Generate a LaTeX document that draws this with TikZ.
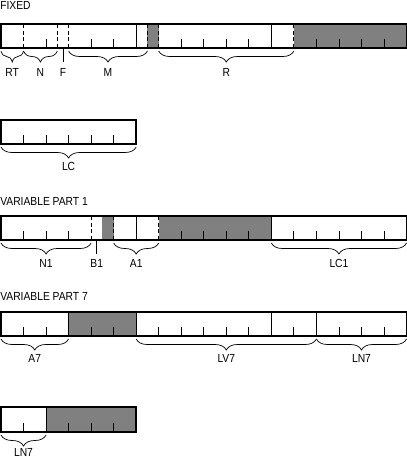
\documentclass[tikz,border=0pt]{standalone}
\usepackage{fontspec}
\setmainfont[FakeStretch=0.88]{Liberation Sans}
\usetikzlibrary{decorations.pathreplacing}
\definecolor{fillgray}{RGB}{128,128,128}
\tikzset{
  outer/.style={line width=1.8pt},
  sep/.style={line width=0.8pt},
  dsep/.style={line width=0.9pt, dash pattern=on 4pt off 2.5pt},
  tickline/.style={line width=0.8pt},
  shade/.style={fill=fillgray},
  brc/.style={decorate, decoration={brace, mirror, amplitude=11pt}, line width=0.7pt},
  lbl/.style={font=\fontsize{11.7}{13}\selectfont, inner sep=0pt},
  ttl/.style={lbl, anchor=west},
}
\begin{document}
\begin{tikzpicture}
\path[use as bounding box] (0pt,0pt) rectangle (407pt,-459pt);
\begin{scope}[xshift=1pt, x=22.53pt, y=-1pt]
% ---------------- FIXED ----------------
\node[ttl] (tfixed) at (-0.04,5) {FIXED};
\fill[shade] (6.5,24) rectangle (7,48);
\fill[shade] (13,24) rectangle (18,48);
\foreach \k in {2,4,5,8,9,10,11,14,15,16,17} \draw[tickline] (\k,48) -- (\k,39);
\foreach \k in {6,12} \draw[sep] (\k,24) -- (\k,48);
\foreach \k in {1,2.5,3,6.5,7,13} \draw[dsep] (\k,24) -- (\k,48);
\draw[outer] (0,24) rectangle (18,48);
\coordinate (fa) at (2.75,48);
\node[lbl] (f) at (2.75,72) {F};
\draw[sep] (fa) -- (2.75,62);
\draw[brc] (0,51) -- (1,51);
\draw[brc] (1,51) -- (2.5,51);
\draw[brc] (3,51) -- (6.5,51);
\draw[brc] (7,51) -- (13,51);
\node[lbl] (rt) at (0.5,72) {RT};
\node[lbl] (n) at (1.75,72) {N};
\node[lbl] (m) at (4.75,72) {M};
\node[lbl] (r) at (10,72) {R};
% ---------------- LC ----------------
\foreach \k in {1,...,5} \draw[tickline] (\k,144) -- (\k,135);
\draw[outer] (0,120) rectangle (6,144);
\draw[brc] (0,147) -- (6,147);
\node[lbl] (lc) at (3,166) {LC};
% ---------------- VARIABLE PART 1 ----------------
\node[ttl] (tvp1) at (-0.04,201) {VARIABLE PART 1};
\fill[shade] (4.5,216) rectangle (5,240);
\fill[shade] (7,216) rectangle (12,240);
\foreach \k in {1,2,3,8,9,10,11,13,14,15,16,17} \draw[tickline] (\k,240) -- (\k,231);
\foreach \k in {6,12} \draw[sep] (\k,216) -- (\k,240);
\foreach \k in {4,5,7} \draw[dsep] (\k,216) -- (\k,240);
\draw[outer] (0,216) rectangle (18,240);
\draw[sep] (4.25,240) -- (4.25,254);
\draw[brc] (0,243) -- (4,243);
\draw[brc] (5,243) -- (7,243);
\draw[brc] (12,243) -- (18,243);
\node[lbl] (n1) at (2,263) {N1};
\node[lbl] (b1) at (4.25,263) {B1};
\node[lbl] (a1) at (6,263) {A1};
\node[lbl] (lc1) at (15,263) {LC1};
% ---------------- VARIABLE PART 7 ----------------
\node[ttl] (tvp7) at (-0.04,296) {VARIABLE PART 7};
\fill[shade] (3,312) rectangle (6,336);
\foreach \k in {1,2,4,5,7,8,9,10,11,13,15,16,17} \draw[tickline] (\k,336) -- (\k,327);
\foreach \k in {3,6,12,14} \draw[sep] (\k,312) -- (\k,336);
\draw[outer] (0,312) rectangle (18,336);
\draw[brc] (0,339) -- (3,339);
\draw[brc] (6,339) -- (14,339);
\draw[brc] (14,339) -- (18,339);
\node[lbl] (a7) at (1.5,358) {A7};
\node[lbl] (lv7) at (10,358) {LV7};
\node[lbl] (ln7a) at (16,358) {LN7};
% ---------------- LN7 ----------------
\fill[shade] (2,407) rectangle (6,432);
\foreach \k in {1,3,4,5} \draw[tickline] (\k,432) -- (\k,423);
\draw[sep] (2,407) -- (2,432);
\draw[outer] (0,407) rectangle (6,432);
\draw[brc] (0,435) -- (2,435);
\node[lbl] (ln7b) at (1,452) {LN7};
\end{scope}
\end{tikzpicture}
\end{document}
